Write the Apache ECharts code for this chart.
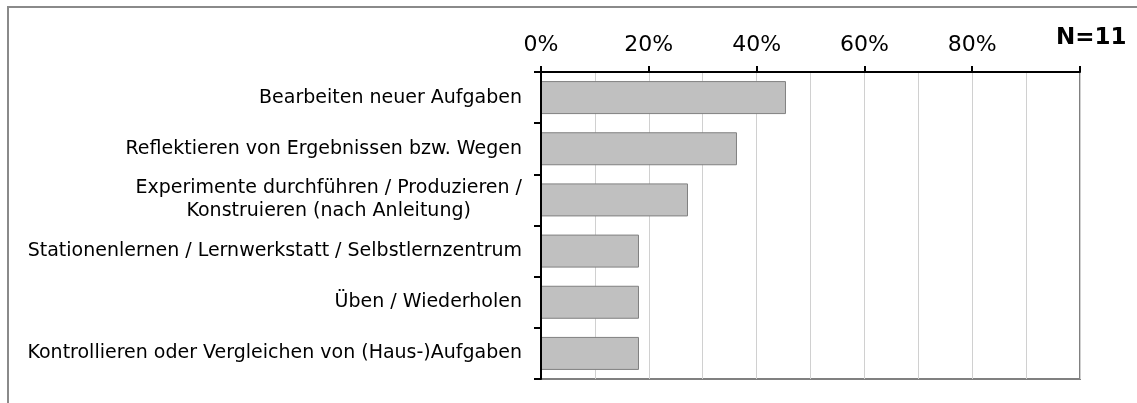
<!DOCTYPE html>
<html>
<head>
<meta charset="utf-8">
<script src="https://cdn.jsdelivr.net/npm/echarts@6/dist/echarts.min.js"></script>
<style>
html,body{margin:0;padding:0;background:#fff;}
#chart{width:1137px;height:403px;}
</style>
</head>
<body>
<div id="chart"></div>
<script>
const categories = [
  'Bearbeiten neuer Aufgaben',
  'Reflektieren von Ergebnissen bzw. Wegen',
  'Experimente durchführen / Produzieren /\nKonstruieren (nach Anleitung)',
  'Stationenlernen / Lernwerkstatt / Selbstlernzentrum',
  'Üben / Wiederholen',
  'Kontrollieren oder Vergleichen von (Haus-)Aufgaben'
];
const values = [45.45, 36.36, 27.27, 18.18, 18.18, 18.18];
const tickLabels = ['0%', '20%', '40%', '60%', '80%', ''];
const sampleLabel = 'N=11';

const FONT = 'DejaVu Sans';
const chart = echarts.init(document.getElementById('chart'));
chart.setOption({
  backgroundColor: '#ffffff',
  animation: false,
  graphic: [
    {type: 'rect', shape: {x: 8, y: 7, width: 1300, height: 600},
     style: {fill: 'none', stroke: '#8a8a8a', lineWidth: 2}, z: 0},
    {type: 'text', left: 1056, top: 27,
     style: {text: sampleLabel, fontFamily: FONT, fontWeight: 'bold', fontSize: 23, fill: '#000'}}
  ],
  grid: {left: 541, top: 72, right: 57, bottom: 24, show: true,
         borderColor: '#808080', borderWidth: 2, backgroundColor: 'transparent'},
  xAxis: [
    {type: 'value', position: 'top', min: 0, max: 100, interval: 20,
     axisLine: {show: true, lineStyle: {color: '#000', width: 2}},
     axisTick: {show: true, length: 6, lineStyle: {color: '#000', width: 2}},
     axisLabel: {margin: 16, fontFamily: FONT, fontSize: 22, color: '#000',
                 formatter: v => tickLabels[Math.round(v / 20)]},
     splitLine: {show: false}, z: 5},
    {type: 'value', position: 'bottom', min: 0, max: 100, interval: 10,
     axisLine: {show: false}, axisTick: {show: false}, axisLabel: {show: false},
     splitLine: {show: true, lineStyle: {color: '#d0d0d0', width: 1}}}
  ],
  yAxis: {
    type: 'category', data: categories, inverse: true,
    axisLine: {show: true, lineStyle: {color: '#000', width: 2}},
    axisTick: {show: true, length: 7, alignWithLabel: false, lineStyle: {color: '#000', width: 2}},
    axisLabel: {margin: 19, color: '#000',
      formatter: v => v.split('\n').map(s => '{c|' + s + '}').join('\n'),
      rich: {c: {fontFamily: FONT, fontSize: 19, lineHeight: 23, align: 'center', color: '#000'}}},
    z: 5
  },
  series: [{
    type: 'bar', xAxisIndex: 0, data: values, barWidth: 33,
    itemStyle: {color: '#c0c0c0', borderColor: '#808080', borderWidth: 1},
    z: 2
  }]
});
</script>
</body>
</html>
